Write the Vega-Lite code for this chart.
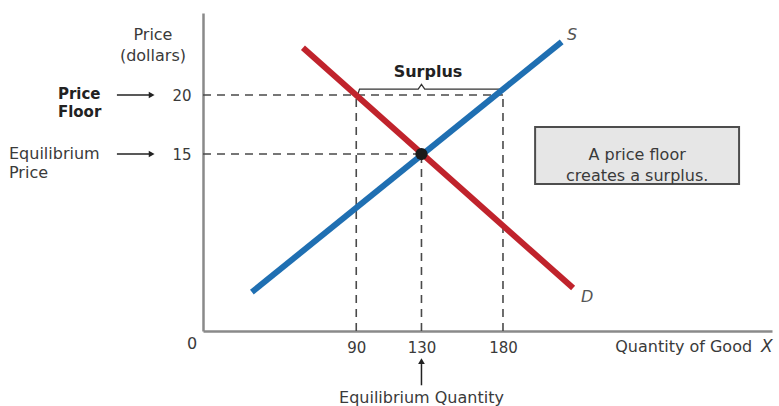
{
  "$schema": "https://vega.github.io/schema/vega-lite/v6.json",
  "width": 569,
  "height": 318,
  "autosize": {"type": "none"},
  "padding": {"left": 203, "top": 13, "right": 7, "bottom": 75},
  "background": "white",
  "config": {
    "view": {"stroke": null},
    "font": "DejaVu Sans",
    "axis": {"grid": false, "ticks": false, "title": null, "domainColor": "#8a8a8a", "domainWidth": 2.5, "labelFontSize": 15, "labelColor": "#3a3a3a", "labelFont": "DejaVu Sans"}
  },
  "datasets": {
    "dashes": [
      {"x": -4, "x2": 180, "y": 20, "y2": 20},
      {"x": -4, "x2": 130, "y": 15, "y2": 15},
      {"x": 90, "x2": 90, "y": 0, "y2": 20},
      {"x": 130, "x2": 130, "y": 0, "y2": 15},
      {"x": 180, "x2": 180, "y": 0, "y2": 20}
    ],
    "curves": [
      {"s": "S", "o": 1, "x": 26, "y": 3.3},
      {"s": "S", "o": 2, "x": 216, "y": 24.5},
      {"s": "D", "o": 1, "x": 57.3, "y": 24.0},
      {"s": "D", "o": 2, "x": 223, "y": 3.64}
    ],
    "bracket": [
      {"o": 1, "x": 91, "y": 20.05},
      {"o": 2, "x": 92, "y": 20.5},
      {"o": 3, "x": 128, "y": 20.5},
      {"o": 4, "x": 130, "y": 20.9},
      {"o": 5, "x": 132, "y": 20.5},
      {"o": 6, "x": 178, "y": 20.5},
      {"o": 7, "x": 179, "y": 20.05}
    ],
    "eq": [{"x": 130, "y": 15}],
    "box": [{"x": 199.7, "x2": 324.8, "y": 17.29, "y2": 12.46}],
    "arrows": [
      {"x": -56.8, "x2": -37, "y": 20, "y2": 20},
      {"x": -56.8, "x2": -37, "y": 15, "y2": 15},
      {"x": 130, "x2": 130, "y": -4.6, "y2": -2.8}
    ],
    "headsRight": [{"x": -35.5, "y": 20}, {"x": -35.5, "y": 15}],
    "headsUp": [{"x": 130, "y": -2.55}],
    "plainText": [
      {"t": "Price\n(dollars)", "x": -34.7, "y": 25.05},
      {"t": "Equilibrium Quantity", "x": 130, "y": -5.68},
      {"t": "0", "x": -10.7, "y": -1.1},
      {"t": "A price floor\ncreates a surplus.", "x": 262.3, "y": 14.9}
    ],
    "leftText": [
      {"t": "Equilibrium\nPrice", "x": -123, "y": 15}
    ],
    "boldLeftText": [
      {"t": "Price\nFloor", "x": -93, "y": 20.1}
    ],
    "boldText": [
      {"t": "Surplus", "x": 134, "y": 21.95}
    ],
    "axisTitle": [
      {"t": "Quantity of Good", "x": 332.8, "y": -1.36}
    ],
    "italicText": [
      {"t": "X", "x": 338.3, "y": -1.36}
    ],
    "curveLabels": [
      {"t": "S", "x": 222.4, "y": 25.08},
      {"t": "D", "x": 231.6, "y": 2.88}
    ]
  },
  "layer": [
    {
      "data": {"name": "box"},
      "mark": {"type": "rect", "fill": "#e6e6e6", "stroke": "#4d4d4d", "strokeWidth": 2},
      "encoding": {
        "x": {"field": "x", "type": "quantitative", "scale": {"domain": [-4, 345], "nice": false, "zero": false}, "axis": {"values": [90, 130, 180], "labelPadding": 9}},
        "x2": {"field": "x2"},
        "y": {"field": "y", "type": "quantitative", "scale": {"domain": [0, 26.95], "nice": false, "zero": false}, "axis": {"values": [15, 20], "labelPadding": 12}},
        "y2": {"field": "y2"}
      }
    },
    {
      "data": {"name": "dashes"},
      "mark": {"type": "rule", "color": "#4a4a4a", "strokeWidth": 1.6, "strokeDash": [8, 6]},
      "encoding": {
        "x": {"field": "x", "type": "quantitative"},
        "x2": {"field": "x2"},
        "y": {"field": "y", "type": "quantitative"},
        "y2": {"field": "y2"}
      }
    },
    {
      "data": {"name": "bracket"},
      "mark": {"type": "line", "color": "#333333", "strokeWidth": 1.3},
      "encoding": {
        "x": {"field": "x", "type": "quantitative"},
        "y": {"field": "y", "type": "quantitative"},
        "order": {"field": "o"}
      }
    },
    {
      "data": {"name": "curves"},
      "mark": {"type": "line", "strokeWidth": 6, "strokeCap": "butt"},
      "encoding": {
        "x": {"field": "x", "type": "quantitative"},
        "y": {"field": "y", "type": "quantitative"},
        "order": {"field": "o"},
        "color": {"field": "s", "type": "nominal", "scale": {"domain": ["S", "D"], "range": ["#1f6fb2", "#c0232c"]}, "legend": null}
      }
    },
    {
      "data": {"name": "eq"},
      "mark": {"type": "point", "filled": true, "color": "#1a1a1a", "size": 150, "opacity": 1},
      "encoding": {
        "x": {"field": "x", "type": "quantitative"},
        "y": {"field": "y", "type": "quantitative"}
      }
    },
    {
      "data": {"name": "arrows"},
      "mark": {"type": "rule", "color": "#222222", "strokeWidth": 1.5},
      "encoding": {
        "x": {"field": "x", "type": "quantitative"},
        "x2": {"field": "x2"},
        "y": {"field": "y", "type": "quantitative"},
        "y2": {"field": "y2"}
      }
    },
    {
      "data": {"name": "headsRight"},
      "mark": {"type": "point", "shape": "triangle-right", "filled": true, "color": "#222222", "size": 45, "opacity": 1},
      "encoding": {
        "x": {"field": "x", "type": "quantitative"},
        "y": {"field": "y", "type": "quantitative"}
      }
    },
    {
      "data": {"name": "headsUp"},
      "mark": {"type": "point", "shape": "triangle-up", "filled": true, "color": "#222222", "size": 45, "opacity": 1},
      "encoding": {
        "x": {"field": "x", "type": "quantitative"},
        "y": {"field": "y", "type": "quantitative"}
      }
    },
    {
      "data": {"name": "plainText"},
      "mark": {"type": "text", "fontSize": 16, "color": "#3a3a3a", "align": "center", "baseline": "middle", "lineBreak": "\n", "lineHeight": 21},
      "encoding": {
        "x": {"field": "x", "type": "quantitative"},
        "y": {"field": "y", "type": "quantitative"},
        "text": {"field": "t"}
      }
    },
    {
      "data": {"name": "leftText"},
      "mark": {"type": "text", "fontSize": 16, "color": "#3a3a3a", "align": "left", "baseline": "middle", "lineBreak": "\n", "lineHeight": 19},
      "encoding": {
        "x": {"field": "x", "type": "quantitative"},
        "y": {"field": "y", "type": "quantitative"},
        "text": {"field": "t"}
      }
    },
    {
      "data": {"name": "boldLeftText"},
      "mark": {"type": "text", "fontSize": 15, "fontWeight": "bold", "color": "#222222", "align": "left", "baseline": "middle", "lineBreak": "\n", "lineHeight": 18},
      "encoding": {
        "x": {"field": "x", "type": "quantitative"},
        "y": {"field": "y", "type": "quantitative"},
        "text": {"field": "t"}
      }
    },
    {
      "data": {"name": "boldText"},
      "mark": {"type": "text", "fontSize": 16, "fontWeight": "bold", "color": "#222222", "align": "center", "baseline": "middle"},
      "encoding": {
        "x": {"field": "x", "type": "quantitative"},
        "y": {"field": "y", "type": "quantitative"},
        "text": {"field": "t"}
      }
    },
    {
      "data": {"name": "axisTitle"},
      "mark": {"type": "text", "fontSize": 16, "color": "#3a3a3a", "align": "right", "baseline": "middle"},
      "encoding": {
        "x": {"field": "x", "type": "quantitative"},
        "y": {"field": "y", "type": "quantitative"},
        "text": {"field": "t"}
      }
    },
    {
      "data": {"name": "italicText"},
      "mark": {"type": "text", "fontSize": 17, "fontStyle": "italic", "color": "#3a3a3a", "align": "left", "baseline": "middle"},
      "encoding": {
        "x": {"field": "x", "type": "quantitative"},
        "y": {"field": "y", "type": "quantitative"},
        "text": {"field": "t"}
      }
    },
    {
      "data": {"name": "curveLabels"},
      "mark": {"type": "text", "fontSize": 16, "fontStyle": "italic", "color": "#555555", "align": "center", "baseline": "middle"},
      "encoding": {
        "x": {"field": "x", "type": "quantitative"},
        "y": {"field": "y", "type": "quantitative"},
        "text": {"field": "t"}
      }
    }
  ]
}
